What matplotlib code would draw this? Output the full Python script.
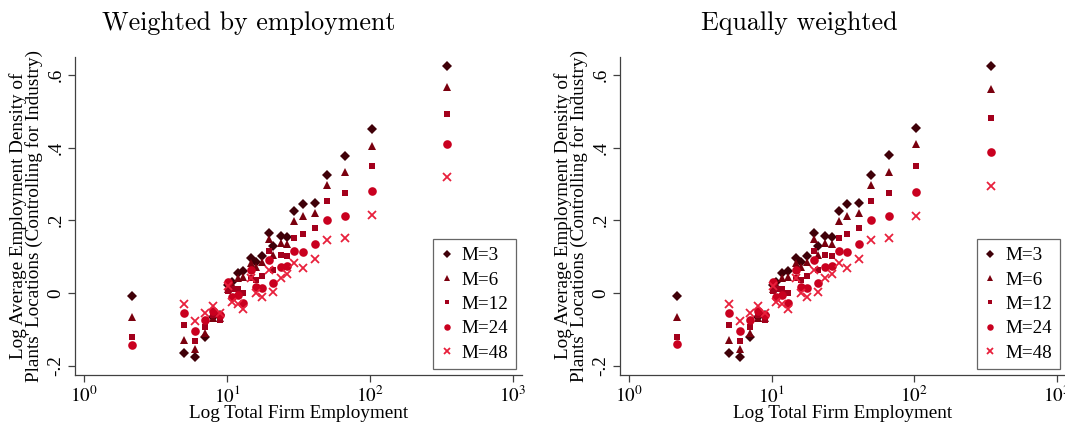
import numpy as np
import matplotlib
matplotlib.use("Agg")
import matplotlib.pyplot as plt
from matplotlib.ticker import FixedLocator, FixedFormatter

plt.rcParams['font.family'] = ['Liberation Serif', 'DejaVu Serif']
plt.rcParams['mathtext.fontset'] = 'stix'

# Firm size bins (total firm employment)
firm_size = [2.16, 5.0, 6.0, 7.0, 8.0, 9.0, 10.2, 10.8, 11.9, 13.0, 14.7, 16.0,
             17.6, 19.8, 21.0, 23.8, 26.4, 29.6, 34.0, 41.0, 49.8, 66.8, 102.8, 347.0]

# Weighted by employment
w_m3  = [-0.008, -0.164, -0.177, -0.120, -0.067, -0.060, 0.022, 0.030, 0.056, 0.060, 0.097, 0.086,
         0.102, 0.164, 0.129, 0.157, 0.155, 0.226, 0.244, 0.247, 0.325, 0.376, 0.450, 0.625]
w_m6  = [-0.065, -0.128, -0.155, -0.111, -0.070, -0.068, 0.012, 0.025, 0.040, 0.045, 0.082, 0.071,
         0.086, 0.148, 0.105, 0.137, 0.135, 0.197, 0.212, 0.219, 0.298, 0.332, 0.405, 0.566]
w_m12 = [-0.122, -0.089, -0.133, -0.094, -0.060, -0.074, 0.005, 0.010, 0.010, -0.001, 0.040, 0.036,
         0.047, 0.116, 0.063, 0.105, 0.102, 0.152, 0.162, 0.178, 0.253, 0.274, 0.349, 0.492]
w_m24 = [-0.142, -0.056, -0.105, -0.074, -0.049, -0.060, 0.031, -0.010, -0.005, -0.027, 0.063, 0.016,
         0.013, 0.091, 0.027, 0.071, 0.074, 0.116, 0.114, 0.134, 0.201, 0.213, 0.280, 0.410]
w_m48 = [np.nan, -0.030, -0.076, -0.056, -0.036, -0.056, 0.020, -0.024, -0.030, -0.045, 0.040, 0.001,
         -0.012, 0.063, 0.003, 0.040, 0.052, 0.082, 0.068, 0.094, 0.146, 0.150, 0.214, 0.320]

# Equally weighted
e_m3  = [-0.007, -0.164, -0.177, -0.120, -0.067, -0.060, 0.022, 0.030, 0.056, 0.060, 0.097, 0.086,
         0.102, 0.164, 0.129, 0.157, 0.155, 0.226, 0.244, 0.247, 0.325, 0.379, 0.455, 0.625]
e_m6  = [-0.065, -0.128, -0.155, -0.111, -0.070, -0.068, 0.012, 0.025, 0.040, 0.045, 0.082, 0.071,
         0.086, 0.148, 0.105, 0.137, 0.135, 0.197, 0.212, 0.219, 0.298, 0.334, 0.409, 0.560]
e_m12 = [-0.120, -0.089, -0.133, -0.094, -0.060, -0.074, 0.005, 0.010, 0.010, -0.001, 0.040, 0.036,
         0.047, 0.116, 0.063, 0.105, 0.102, 0.152, 0.162, 0.178, 0.253, 0.274, 0.349, 0.480]
e_m24 = [-0.140, -0.056, -0.105, -0.074, -0.049, -0.060, 0.031, -0.010, -0.005, -0.027, 0.063, 0.016,
         0.013, 0.091, 0.027, 0.071, 0.074, 0.116, 0.114, 0.134, 0.201, 0.213, 0.279, 0.389]
e_m48 = [np.nan, -0.030, -0.076, -0.056, -0.036, -0.056, 0.020, -0.024, -0.030, -0.045, 0.040, 0.001,
         -0.012, 0.063, 0.003, 0.040, 0.052, 0.082, 0.068, 0.094, 0.146, 0.152, 0.212, 0.294]

labels = ['M=3', 'M=6', 'M=12', 'M=24', 'M=48']
markers = ['D', '^', 's', 'o', 'x']
msizes = [5.0, 5.5, 4.8, 6.2, 5.8]
colors = ['#3f0008', '#7a000e', '#a3001c', '#c9001f', '#e8203c']

x_ticks = [1, 10, 100, 1000]
x_ticklabels = [r'$10^{0}$', r'$10^{1}$', r'$10^{2}$', r'$10^{3}$']
y_ticks = [-0.2, 0, 0.2, 0.4, 0.6]
y_ticklabels = ['-.2', '0', '.2', '.4', '.6']

titles = ['Weighted by employment', 'Equally weighted']
ylabel = "Log Average Employment Density of\nPlants' Locations (Controlling for Industry)"
xlabel = 'Log Total Firm Employment'

fig = plt.figure(figsize=(10.65, 4.24), dpi=100)
W, H = 1065, 424
axes_px = [(75, 522), (620, 1066)]
title_x = [249, 799]
panels = [[w_m3, w_m6, w_m12, w_m24, w_m48], [e_m3, e_m6, e_m12, e_m24, e_m48]]
fs = 13.8

for k, ((x0, x1), series) in enumerate(zip(axes_px, panels)):
    ax = fig.add_axes([x0 / W, (H - 375) / H, (x1 - x0) / W, (375 - 57) / H])
    for ys, lab, mk, ms, c in zip(series, labels, markers, msizes, colors):
        kw = dict(markeredgewidth=1.3) if mk == 'x' else dict(markeredgewidth=0)
        ax.plot(firm_size, ys, linestyle='none', marker=mk, markersize=ms,
                color=c, label=lab, **kw)
    ax.set_xscale('log')
    ax.set_xlim(10 ** -0.063, 10 ** 3.063)
    ax.set_ylim(-0.2256, 0.649)
    ax.xaxis.set_major_locator(FixedLocator(x_ticks))
    ax.xaxis.set_major_formatter(FixedFormatter(x_ticklabels))
    ax.xaxis.set_minor_locator(FixedLocator([]))
    ax.set_yticks(y_ticks)
    ax.set_yticklabels(y_ticklabels, rotation=90, va='center')
    for s in ['top', 'right']:
        ax.spines[s].set_visible(False)
    for s in ['left', 'bottom']:
        ax.spines[s].set_color('#404040')
        ax.spines[s].set_linewidth(0.9)
    ax.tick_params(axis='both', direction='out', length=5, width=0.9, color='#404040',
                   labelsize=fs, pad=2.5)
    ax.set_xlabel(xlabel, fontsize=fs, labelpad=-1)
    ax.set_ylabel(ylabel, fontsize=fs, labelpad=3, linespacing=0.9)
    leg = ax.legend(loc='lower right', bbox_to_anchor=(1.0, 0.0), fontsize=fs,
                    frameon=True, fancybox=False, edgecolor='#404040',
                    handlelength=0.6, handletextpad=0.5, borderpad=0.4,
                    labelspacing=0.36, borderaxespad=0.3, markerscale=0.75)
    leg.get_frame().set_linewidth(0.9)
    fig.text(title_x[k] / W, 1 - 23 / H, titles[k], fontsize=18.7, family='cmr10',
             ha='center', va='center')

fig.savefig('out.png', dpi=100)
